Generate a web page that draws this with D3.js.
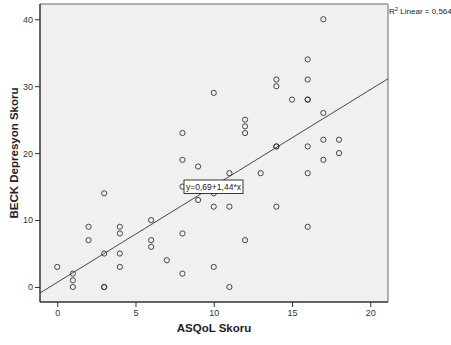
<!DOCTYPE html>
<html><head><meta charset="utf-8">
<script src="https://cdn.jsdelivr.net/npm/d3@7"></script>
<style>body{margin:0;background:#fff}svg{display:block}</style>
</head><body>
<svg id="c" width="451" height="345"></svg>
<script>
const asqol = [0,1,1,1,2,2,3,3,3,3,4,4,4,4,6,6,6,7,8,8,8,8,8,9,9,10,10,10,10,11,11,11,12,12,12,12,13,14,14,14,14,14,15,16,16,16,16,16,16,16,17,17,17,17,18,18];
const beck  = [3,2,1,0,9,7,14,5,0,0,9,8,5,3,10,7,6,4,23,19,15,8,2,18,13,29,14,12,3,17,12,0,25,24,23,7,17,31,30,21,21,12,28,34,31,28,28,21,17,9,40,26,22,19,22,20];
const xTicks = [0,5,10,15,20];
const yTicks = [0,10,20,30,40];
const intercept = 0.69, slope = 1.44;
const r2Label = "0,564";
const fitLabel = "y=0,69+1,44*x";
const xTitle = "ASQoL Skoru";
const yTitle = "BECK Depresyon Skoru";
</script>
<script>
const pts = asqol.map((v,i)=>[v, beck[i]]);
const font = "Arial, 'Liberation Sans', sans-serif";
const svg = d3.select("#c");
const L=40, R=388, T=4, B=302;
const x = d3.scaleLinear().domain([-1.1, 21.13]).range([L, R]);
const y = d3.scaleLinear().domain([-2.24, 42.28]).range([B, T]);

svg.append("rect").attr("x",L).attr("y",T).attr("width",R-L).attr("height",B-T).attr("fill","#f0f0f0");
svg.append("line").attr("x1",L).attr("x2",R).attr("y1",T).attr("y2",T).attr("stroke","#999").attr("stroke-width",1.5);
svg.append("line").attr("x1",R).attr("x2",R).attr("y1",T).attr("y2",B).attr("stroke","#999").attr("stroke-width",1.5);

const [d0,d1] = x.domain();
svg.append("line")
  .attr("x1",x(d0)).attr("y1",y(intercept+slope*d0))
  .attr("x2",x(d1)).attr("y2",y(intercept+slope*d1))
  .attr("stroke","#333").attr("stroke-width",0.9);

svg.append("g").selectAll("circle").data(pts).join("circle")
  .attr("cx",d=>x(d[0])).attr("cy",d=>y(d[1])).attr("r",2.6)
  .attr("fill","none").attr("stroke","#333").attr("stroke-width",0.9);

const xa = svg.append("g").attr("transform",`translate(0,${B})`)
  .call(d3.axisBottom(x).tickValues(xTicks).tickSize(5).tickSizeOuter(0).tickPadding(3));
const ya = svg.append("g").attr("transform",`translate(${L},0)`)
  .call(d3.axisLeft(y).tickValues(yTicks).tickSize(5).tickSizeOuter(0).tickPadding(2));
[xa,ya].forEach(a=>{
  a.select(".domain").attr("stroke","#333").attr("stroke-width",1.5);
  a.selectAll(".tick line").attr("stroke","#333");
  a.selectAll("text").attr("font-family",font).attr("font-size",9).attr("fill","#333");
});
xa.select(".domain").attr("d",`M${L},0H${R}`);
ya.select(".domain").attr("d",`M0,${T}V${B}`);

// fit label box
const lg = svg.append("g");
lg.append("rect").attr("x",184).attr("y",180).attr("width",59).attr("height",13.5)
  .attr("fill","#fff").attr("stroke","#222").attr("stroke-width",0.9);
lg.append("text").attr("x",186).attr("y",190.3)
  .attr("font-family",font).attr("font-size",9).attr("fill","#222")
  .attr("textLength",55).attr("lengthAdjust","spacingAndGlyphs").text(fitLabel);

const r2 = svg.append("text").attr("x",389).attr("y",14)
  .attr("font-family",font).attr("font-size",8).attr("fill","#222");
r2.append("tspan").text("R");
r2.append("tspan").attr("dy",-3).attr("font-size",6).text("2");
r2.append("tspan").attr("dy",3).text(" Linear = " + r2Label);

svg.append("text").attr("x",(L+R)/2).attr("y",332).attr("text-anchor","middle")
  .attr("font-family",font).attr("font-weight","bold").attr("font-size",11.5).attr("fill","#222").text(xTitle);
svg.append("text").attr("transform",`translate(18,${(T+B)/2}) rotate(-90)`).attr("text-anchor","middle")
  .attr("font-family",font).attr("font-weight","bold").attr("font-size",11.5).attr("fill","#222").text(yTitle);
</script>
</body></html>
